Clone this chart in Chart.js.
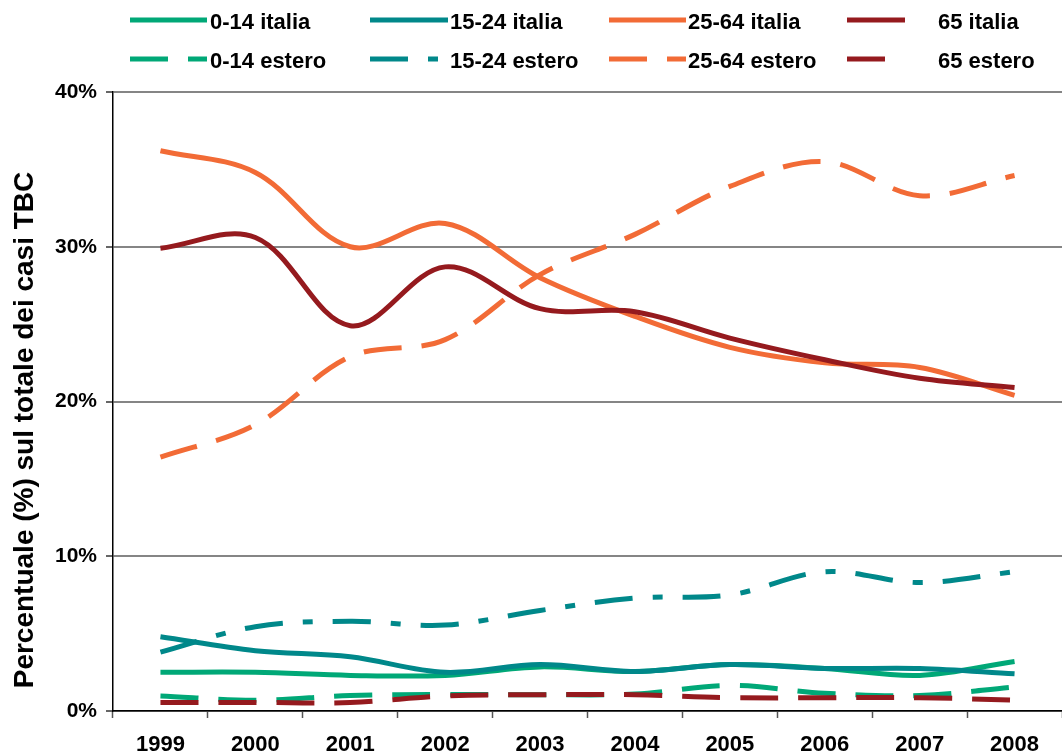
<!DOCTYPE html>
<html>
<head>
<meta charset="utf-8">
<script src="https://cdn.jsdelivr.net/npm/chart.js@4"></script>
<style>
  html, body { margin: 0; padding: 0; background: #fff; }
  #wrap { width: 1062px; height: 756px; }
</style>
</head>
<body>
<div id="wrap"><canvas id="tbcChart"></canvas></div>
<script>
const years = ['1999', '2000', '2001', '2002', '2003', '2004', '2005', '2006', '2007', '2008'];

// percentuale sul totale dei casi TBC
const it0_14 = [2.5, 2.5, 2.3, 2.3, 2.85, 2.55, 3.0, 2.75, 2.3, 3.2];
const it15_24 = [4.8, 3.9, 3.5, 2.5, 3.0, 2.55, 3.0, 2.75, 2.75, 2.4];
const it25_64 = [36.2, 34.8, 30.0, 31.5, 28.0, 25.5, 23.5, 22.5, 22.2, 20.4];
const it65 = [29.9, 30.6, 24.9, 28.7, 26.0, 25.8, 24.1, 22.7, 21.5, 20.9];
const est0_14 = [0.97, 0.7, 1.0, 1.07, 1.05, 1.1, 1.65, 1.15, 1.0, 1.55];
const est15_24 = [3.8, 5.45, 5.8, 5.55, 6.5, 7.3, 7.5, 9.0, 8.3, 9.0];
const est25_64 = [16.4, 18.5, 22.9, 24.0, 28.2, 30.8, 33.9, 35.5, 33.3, 34.6];
const est65 = [0.55, 0.55, 0.55, 0.97, 1.05, 1.05, 0.86, 0.86, 0.86, 0.7];

const seriesNames = ['0-14 italia', '15-24 italia', '25-64 italia', '65 italia',
                     '0-14 estero', '15-24 estero', '25-64 estero', '65 estero'];
const seriesData = [it0_14, it15_24, it25_64, it65, est0_14, est15_24, est25_64, est65];

const yTicks = [0, 10, 20, 30, 40];

const GREEN = '#00a877';
const TEAL = '#00888a';
const ORANGE = '#f26b36';
const DARKRED = '#951a1e';
const colors = [GREEN, TEAL, ORANGE, DARKRED, GREEN, TEAL, ORANGE, DARKRED];
const LONG_DASH = [38, 20];
const DASH_DOT = [38, 20, 10, 20];
const dashes = [[], [], [], [], LONG_DASH, DASH_DOT, LONG_DASH, LONG_DASH];

const FONT = '"Liberation Sans", Arial, sans-serif';

const datasets = seriesNames.map((name, i) => ({
    label: name,
    data: seriesData[i],
    borderColor: colors[i],
    backgroundColor: colors[i],
    borderWidth: 5,
    borderDash: dashes[i],
    borderCapStyle: 'butt',
    pointRadius: 0,
    tension: 0.35,
    fill: false,
    order: seriesNames.length - i   // later series drawn on top
}));

// legend in a 4 x 2 grid plus the rotated y title
const decorations = {
    id: 'decorations',
    afterDraw(chart) {
        const ctx = chart.ctx;
        const sampleStart = [130, 370, 609, 847];
        const sampleEnd = [207, 448, 686, 905];
        const textStart = [210, 450, 688, 938];
        const lineY = [20, 59];
        const textY = [29, 68];
        ctx.save();
        chart.data.datasets.forEach((ds, i) => {
            const col = i % 4;
            const row = Math.floor(i / 4);
            ctx.beginPath();
            ctx.strokeStyle = ds.borderColor;
            ctx.lineWidth = 5;
            ctx.lineCap = 'butt';
            ctx.setLineDash(ds.borderDash);
            ctx.moveTo(sampleStart[col], lineY[row]);
            ctx.lineTo(sampleEnd[col], lineY[row]);
            ctx.stroke();
            ctx.setLineDash([]);
            ctx.fillStyle = '#000';
            ctx.font = 'bold 22px ' + FONT;
            ctx.textAlign = 'left';
            ctx.textBaseline = 'alphabetic';
            ctx.fillText(ds.label, textStart[col], textY[row]);
        });

        ctx.translate(33, 430);
        ctx.rotate(-Math.PI / 2);
        ctx.font = 'bold 28px ' + FONT;
        ctx.textAlign = 'center';
        ctx.textBaseline = 'alphabetic';
        ctx.fillStyle = '#000';
        ctx.fillText('Percentuale (%) sul totale dei casi TBC', 0, 0);
        ctx.restore();
    }
};

new Chart(document.getElementById('tbcChart'), {
    type: 'line',
    data: { labels: years, datasets: datasets },
    plugins: [decorations],
    options: {
        responsive: true,
        maintainAspectRatio: false,
        animation: false,
        layout: { padding: { top: 92, left: 0, right: 0, bottom: 0 } },
        plugins: {
            legend: { display: false },
            tooltip: { enabled: false }
        },
        scales: {
            x: {
                offset: true,
                afterFit(scale) { scale.height = 45; },
                grid: {
                    offset: true,
                    drawOnChartArea: false,
                    drawTicks: true,
                    tickLength: 7,
                    tickColor: '#555',
                    tickWidth: 1.5
                },
                border: { color: '#000', width: 1.5 },
                ticks: {
                    color: '#000',
                    padding: 16,
                    maxRotation: 0,
                    font: { family: FONT, size: 22, weight: 'bold', lineHeight: 1 }
                }
            },
            y: {
                min: 0,
                max: 40,
                afterFit(scale) { scale.width = 113; },
                afterBuildTicks(scale) { scale.ticks = yTicks.map(v => ({ value: v })); },
                grid: {
                    color: '#858585',
                    lineWidth: 2,
                    tickLength: 7,
                    tickColor: '#333',
                    tickWidth: 1.5
                },
                border: { color: '#000', width: 1.5 },
                ticks: {
                    color: '#000',
                    padding: 9,
                    callback: v => v + '%',
                    font: { family: FONT, size: 21, weight: 'bold' }
                }
            }
        }
    }
});
</script>
</body>
</html>
